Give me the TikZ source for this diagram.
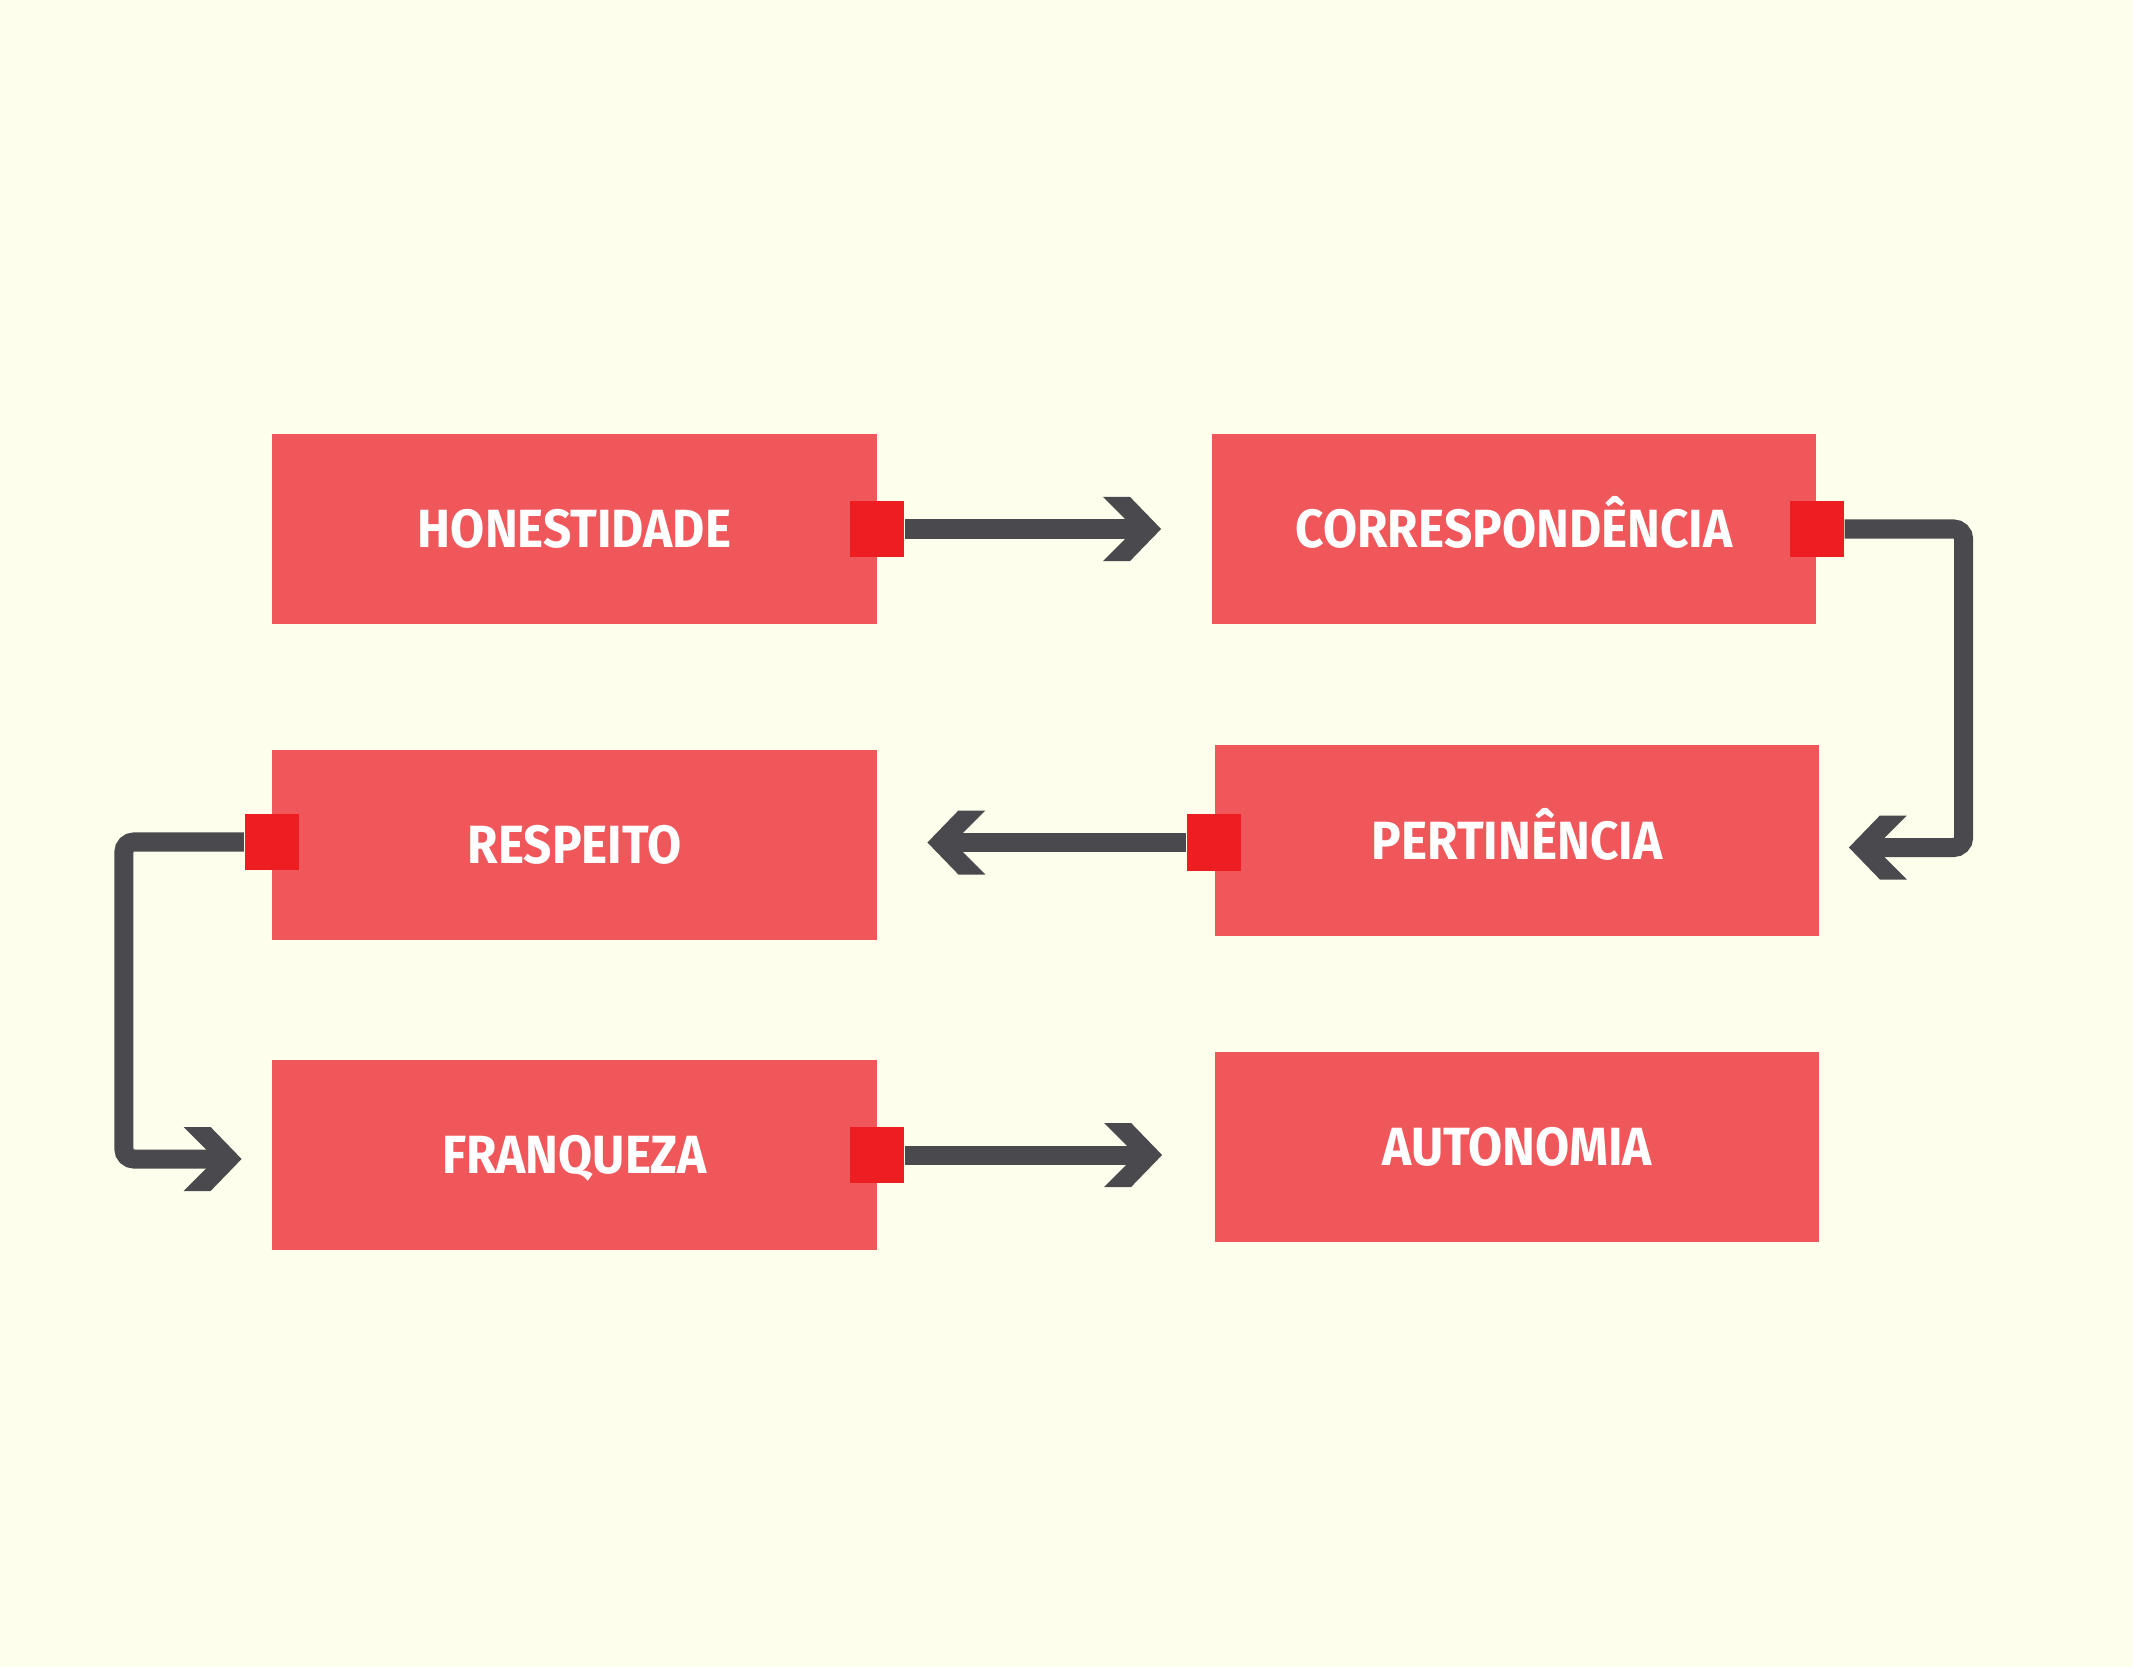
\documentclass[tikz,border=0pt]{standalone}
\usepackage{fontspec}
\setmainfont{Fira Sans}
\newfontfamily\valuefont[FakeStretch=0.92]{Fira Sans}
\usepackage{xcolor}
\usepackage{tikz}
\usetikzlibrary{arrows.meta,positioning,calc}
\definecolor{cream}{HTML}{FDFEEC}
\definecolor{boxred}{HTML}{F0575B}
\definecolor{knobred}{HTML}{EC1E21}
\definecolor{wire}{HTML}{4A494E}

\pgfdeclarearrow{
  name=Chevron,
  setup code={
    \pgfarrowssettipend{0pt}
    \pgfarrowssetlineend{-5.5pt}
    \pgfarrowssetbackend{-16.5pt}
  },
  drawing code={
    \pgfpathmoveto{\pgfpointorigin}
    \pgfpathlineto{\pgfpoint{-8.82pt}{9.1pt}}
    \pgfpathlineto{\pgfpoint{-16.5pt}{9.1pt}}
    \pgfpathlineto{\pgfpoint{-7.4pt}{0pt}}
    \pgfpathlineto{\pgfpoint{-16.5pt}{-9.1pt}}
    \pgfpathlineto{\pgfpoint{-8.82pt}{-9.1pt}}
    \pgfpathclose
    \pgfusepathqfill
  }
}

\begin{document}
\begin{tikzpicture}[x=0.01cm,y=-0.01cm,
    value/.style={fill=boxred,minimum width=6.04cm,minimum height=1.9cm,inner sep=0pt,
      text height=0.37cm,text depth=0cm,
      text=white,font=\valuefont\bfseries\fontsize{15.3}{18}\selectfont},
    knob/.style={fill=knobred,minimum width=0.54cm,minimum height=0.56cm,inner sep=0pt},
    flow/.style={draw=wire,line width=0.19cm,rounded corners=0.1cm,-{Chevron[fill=wire]}}]
  \fill[cream] (0,0) rectangle (2133,1667);
  \useasboundingbox (0,0) rectangle (2133,1667);
  \node[value] (hon) at (574.5,529) {HONESTIDADE};
  \node[value] (cor) at (1514,529) {CORRESPONDÊNCIA};
  \node[value] (per) at (1517,840.5) {PERTINÊNCIA};
  \node[value] (res) at (574.5,845) {RESPEITO};
  \node[value] (fra) at (574.5,1155) {FRANQUEZA};
  \node[value] (aut) at (1517,1147) {AUTONOMIA};
  \node[knob] (hon-q) at (hon.east) {};
  \node[knob] (cor-q) at (cor.east) {};
  \node[knob] (per-q) at ([yshift=-0.02cm]per.west) {};
  \node[knob] (res-q) at ([yshift=0.03cm]res.west) {};
  \node[knob] (fra-q) at (fra.east) {};
  \draw[flow,shorten >=0.5cm] (hon-q.east) -- (cor.west);
  \draw[flow,shorten >=0.29cm] (cor-q.east) -- ++(119,0) |- ([yshift=-0.07cm]per.east);
  \draw[flow,shorten >=0.5cm] (per-q.west) -- (per-q.west -| res.east);
  \draw[flow,shorten >=0.3cm] (res-q.west) -- ++(-120,0) |- ([yshift=-0.04cm]fra.west);
  \draw[flow,shorten >=0.52cm] (fra-q.east) -- (fra-q.east -| aut.west);
\end{tikzpicture}
\end{document}
